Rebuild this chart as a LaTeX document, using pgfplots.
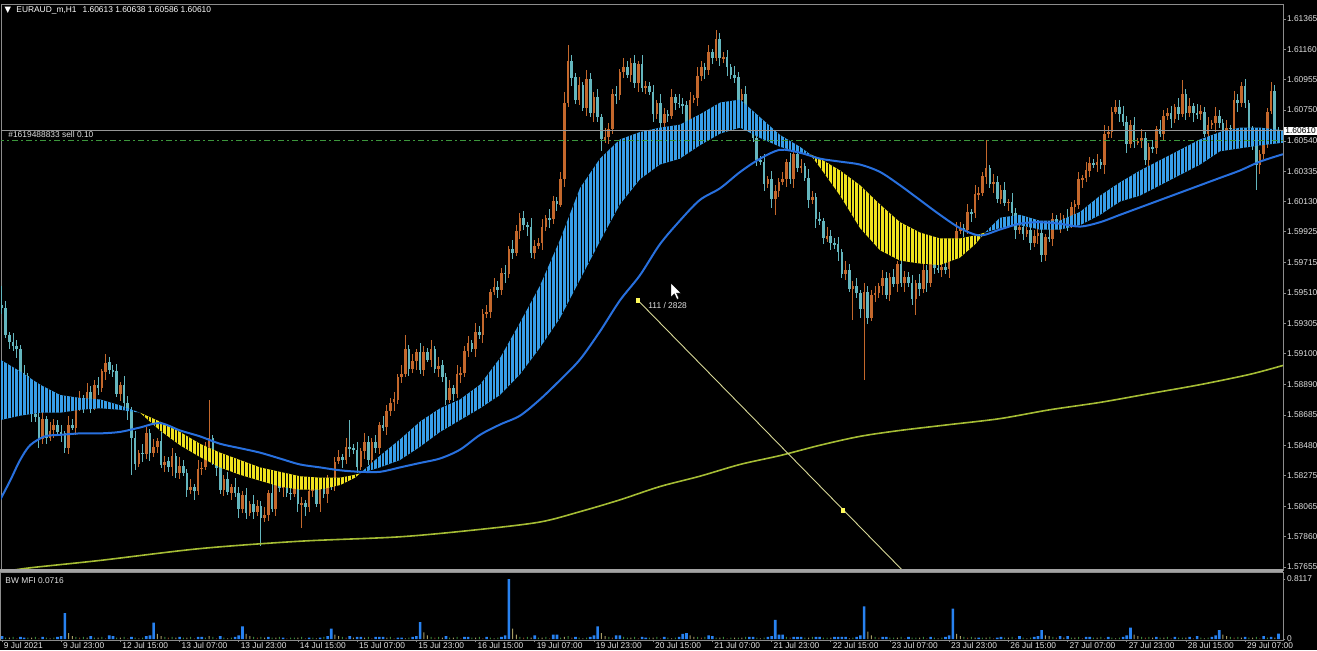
\documentclass[border=0pt]{standalone}
\usepackage{pgfplots}
\pgfplotsset{compat=1.18}
\usepackage{pgfplotstable}
\usetikzlibrary{patterns.meta}
\usepackage{fontspec}
\setmainfont{Liberation Sans}
\newfontfamily\dejavu{DejaVu Sans}

\definecolor{upc}{RGB}{196,104,44}
\definecolor{dnc}{RGB}{100,182,190}
\definecolor{ribblue}{RGB}{56,158,232}
\definecolor{ribyel}{RGB}{240,226,30}
\definecolor{mablue}{RGB}{40,112,222}
\definecolor{malongc}{RGB}{165,188,52}
\definecolor{axgrey}{RGB}{140,140,140}
\definecolor{txt}{RGB}{225,225,225}
\definecolor{mfib}{RGB}{40,130,240}
\definecolor{mfig}{RGB}{60,135,60}
\definecolor{mfik}{RGB}{165,155,100}
\definecolor{mfir}{RGB}{130,72,40}
\definecolor{ordgreen}{RGB}{60,150,60}
\definecolor{bidgrey}{RGB}{150,150,150}
\definecolor{trendc}{RGB}{215,215,150}
\definecolor{sqc}{RGB}{255,250,90}

\newcommand{\sm}{\fontsize{4.2pt}{5pt}\selectfont}

\pgfplotstableread{
i o h l c m k
0 1.5943 1.5956 1.5937 1.5941 0.04 0
1 1.5941 1.5946 1.5921 1.5923 0.02 1
2 1.5923 1.5925 1.5913 1.5918 0.02 2
3 1.5918 1.5924 1.5912 1.5915 0.03 1
4 1.5915 1.5919 1.5907 1.5913 0.01 3
5 1.5913 1.5916 1.5894 1.5897 0.03 0
6 1.5897 1.5902 1.5891 1.5895 0.02 0
7 1.5895 1.5897 1.5885 1.5887 0.02 1
8 1.5887 1.5893 1.5864 1.5869 0.02 2
9 1.5869 1.5873 1.5864 1.5867 0.03 1
10 1.5867 1.5870 1.5846 1.5852 0.01 3
11 1.5852 1.5871 1.5849 1.5866 0.03 0
12 1.5866 1.5868 1.5849 1.5853 0.02 1
13 1.5853 1.5864 1.5851 1.5858 0.01 2
14 1.5858 1.5866 1.5853 1.5862 0.02 1
15 1.5862 1.5865 1.5854 1.5857 0.03 0
16 1.5857 1.5862 1.5850 1.5856 0.04 0
17 1.5856 1.5858 1.5843 1.5846 0.35 0
18 1.5846 1.5868 1.5842 1.5862 0.08 2
19 1.5862 1.5866 1.5858 1.5860 0.04 2
20 1.5860 1.5877 1.5855 1.5874 0.03 1
21 1.5874 1.5885 1.5871 1.5880 0.02 3
22 1.5880 1.5882 1.5870 1.5876 0.03 1
23 1.5876 1.5890 1.5873 1.5884 0.02 2
24 1.5884 1.5888 1.5870 1.5874 0.04 0
25 1.5874 1.5892 1.5872 1.5889 0.02 1
26 1.5889 1.5894 1.5882 1.5887 0.02 2
27 1.5887 1.5900 1.5884 1.5898 0.03 1
28 1.5898 1.5910 1.5892 1.5904 0.01 3
29 1.5904 1.5908 1.5896 1.5899 0.05 0
30 1.5899 1.5902 1.5894 1.5898 0.04 0
31 1.5898 1.5903 1.5881 1.5883 0.02 1
32 1.5883 1.5891 1.5878 1.5889 0.02 2
33 1.5889 1.5895 1.5874 1.5877 0.03 1
34 1.5877 1.5881 1.5865 1.5871 0.01 3
35 1.5871 1.5874 1.5828 1.5853 0.03 0
36 1.5853 1.5858 1.5831 1.5835 0.02 1
37 1.5835 1.5845 1.5833 1.5843 0.01 2
38 1.5843 1.5849 1.5837 1.5842 0.02 1
39 1.5842 1.5860 1.5839 1.5856 0.04 0
40 1.5856 1.5859 1.5837 1.5843 0.05 0
41 1.5843 1.5852 1.5840 1.5847 0.22 0
42 1.5847 1.5853 1.5843 1.5851 0.07 2
43 1.5851 1.5857 1.5833 1.5835 0.04 2
44 1.5835 1.5841 1.5830 1.5837 0.03 1
45 1.5837 1.5840 1.5830 1.5833 0.02 3
46 1.5833 1.5846 1.5827 1.5841 0.03 1
47 1.5841 1.5843 1.5826 1.5829 0.02 2
48 1.5829 1.5840 1.5825 1.5834 0.03 0
49 1.5834 1.5838 1.5827 1.5829 0.02 1
50 1.5829 1.5832 1.5813 1.5818 0.02 2
51 1.5818 1.5825 1.5815 1.5820 0.03 1
52 1.5820 1.5822 1.5811 1.5817 0.01 3
53 1.5817 1.5838 1.5814 1.5832 0.03 0
54 1.5832 1.5837 1.5828 1.5833 0.03 0
55 1.5833 1.5850 1.5831 1.5847 0.02 1
56 1.5847 1.5879 1.5842 1.5853 0.04 2
57 1.5853 1.5855 1.5835 1.5838 0.03 1
58 1.5838 1.5844 1.5827 1.5833 0.01 3
59 1.5833 1.5837 1.5815 1.5818 0.04 0
60 1.5818 1.5828 1.5814 1.5825 0.02 1
61 1.5825 1.5830 1.5814 1.5816 0.01 2
62 1.5816 1.5822 1.5811 1.5820 0.02 1
63 1.5820 1.5826 1.5813 1.5816 0.03 0
64 1.5816 1.5820 1.5799 1.5805 0.05 0
65 1.5805 1.5817 1.5802 1.5814 0.17 0
66 1.5814 1.5819 1.5798 1.5802 0.07 2
67 1.5802 1.5810 1.5800 1.5808 0.04 2
68 1.5808 1.5814 1.5798 1.5803 0.03 1
69 1.5803 1.5811 1.5800 1.5807 0.02 3
70 1.5807 1.5810 1.5780 1.5799 0.03 1
71 1.5799 1.5806 1.5796 1.5801 0.02 2
72 1.5801 1.5818 1.5797 1.5816 0.03 0
73 1.5816 1.5822 1.5803 1.5805 0.02 1
74 1.5805 1.5826 1.5800 1.5822 0.02 2
75 1.5822 1.5825 1.5816 1.5819 0.03 1
76 1.5819 1.5825 1.5813 1.5820 0.02 0
77 1.5820 1.5822 1.5813 1.5816 0.01 3
78 1.5816 1.5822 1.5811 1.5815 0.02 1
79 1.5815 1.5827 1.5813 1.5823 0.02 1
80 1.5823 1.5826 1.5803 1.5808 0.02 2
81 1.5808 1.5813 1.5792 1.5809 0.03 1
82 1.5809 1.5811 1.5800 1.5806 0.01 3
83 1.5806 1.5823 1.5803 1.5817 0.02 0
84 1.5817 1.5823 1.5813 1.5819 0.02 1
85 1.5819 1.5822 1.5806 1.5808 0.01 2
86 1.5808 1.5825 1.5803 1.5820 0.02 0
87 1.5820 1.5822 1.5812 1.5815 0.03 1
88 1.5815 1.5828 1.5809 1.5822 0.04 0
89 1.5822 1.5826 1.5818 1.5821 0.14 0
90 1.5821 1.5840 1.5817 1.5837 0.06 2
91 1.5837 1.5845 1.5835 1.5840 0.04 2
92 1.5840 1.5842 1.5833 1.5838 0.03 1
93 1.5838 1.5853 1.5835 1.5847 0.02 3
94 1.5847 1.5865 1.5840 1.5846 0.04 0
95 1.5846 1.5849 1.5842 1.5845 0.02 2
96 1.5845 1.5850 1.5829 1.5833 0.03 0
97 1.5833 1.5846 1.5831 1.5844 0.03 0
98 1.5844 1.5856 1.5839 1.5850 0.02 2
99 1.5850 1.5854 1.5835 1.5838 0.03 1
100 1.5838 1.5853 1.5832 1.5850 0.01 3
101 1.5850 1.5855 1.5843 1.5846 0.03 0
102 1.5846 1.5864 1.5842 1.5862 0.03 0
103 1.5862 1.5868 1.5858 1.5860 0.03 0
104 1.5860 1.5875 1.5855 1.5871 0.02 2
105 1.5871 1.5880 1.5868 1.5877 0.03 1
106 1.5877 1.5884 1.5871 1.5879 0.01 3
107 1.5879 1.5896 1.5876 1.5894 0.02 0
108 1.5894 1.5902 1.5890 1.5896 0.02 0
109 1.5896 1.5923 1.5894 1.5913 0.01 2
110 1.5913 1.5916 1.5895 1.5900 0.02 1
111 1.5900 1.5910 1.5897 1.5905 0.03 0
112 1.5905 1.5913 1.5899 1.5911 0.04 0
113 1.5911 1.5917 1.5896 1.5899 0.23 0
114 1.5899 1.5915 1.5895 1.5911 0.09 2
115 1.5911 1.5914 1.5904 1.5906 0.05 2
116 1.5906 1.5919 1.5901 1.5913 0.03 1
117 1.5913 1.5915 1.5897 1.5900 0.02 3
118 1.5900 1.5908 1.5894 1.5902 0.03 1
119 1.5902 1.5906 1.5891 1.5894 0.02 2
120 1.5894 1.5897 1.5875 1.5879 0.04 0
121 1.5879 1.5892 1.5877 1.5887 0.02 1
122 1.5887 1.5889 1.5878 1.5883 0.02 2
123 1.5883 1.5902 1.5880 1.5896 0.03 1
124 1.5896 1.5901 1.5890 1.5897 0.01 3
125 1.5897 1.5915 1.5894 1.5912 0.03 0
126 1.5912 1.5922 1.5908 1.5917 0.03 0
127 1.5917 1.5919 1.5911 1.5913 0.02 1
128 1.5913 1.5931 1.5908 1.5925 0.02 2
129 1.5925 1.5929 1.5920 1.5923 0.03 1
130 1.5923 1.5940 1.5917 1.5937 0.01 3
131 1.5937 1.5943 1.5934 1.5938 0.03 0
132 1.5938 1.5954 1.5934 1.5952 0.02 1
133 1.5952 1.5961 1.5950 1.5955 0.01 2
134 1.5955 1.5959 1.5948 1.5953 0.02 1
135 1.5953 1.5968 1.5950 1.5965 0.03 0
136 1.5965 1.5970 1.5958 1.5964 0.05 0
137 1.5964 1.5983 1.5961 1.5981 0.8117 0
138 1.5981 1.5987 1.5974 1.5978 0.14 2
139 1.5978 1.5997 1.5976 1.5993 0.06 2
140 1.5993 1.6005 1.5988 1.6002 0.03 1
141 1.6002 1.6007 1.5994 1.5997 0.02 3
142 1.5997 1.5999 1.5990 1.5996 0.03 1
143 1.5996 1.6002 1.5975 1.5978 0.02 2
144 1.5978 1.5987 1.5974 1.5983 0.05 0
145 1.5983 1.5988 1.5981 1.5985 0.02 1
146 1.5985 1.6001 1.5980 1.5996 0.02 2
147 1.5996 1.6004 1.5993 1.6002 0.03 1
148 1.6002 1.6008 1.5995 1.6001 0.01 3
149 1.6001 1.6017 1.5998 1.6013 0.06 0
150 1.6013 1.6016 1.6007 1.6011 0.06 0
151 1.6011 1.6033 1.6009 1.6028 0.02 1
152 1.6028 1.6087 1.6023 1.6080 0.03 2
153 1.6080 1.6119 1.6077 1.6108 0.04 1
154 1.6108 1.6112 1.6091 1.6097 0.02 3
155 1.6097 1.6100 1.6079 1.6082 0.03 0
156 1.6082 1.6097 1.6078 1.6092 0.02 1
157 1.6092 1.6094 1.6074 1.6076 0.01 2
158 1.6076 1.6102 1.6071 1.6096 0.02 1
159 1.6096 1.6100 1.6070 1.6073 0.03 0
160 1.6073 1.6087 1.6067 1.6084 0.05 0
161 1.6084 1.6089 1.6067 1.6070 0.17 0
162 1.6070 1.6072 1.6047 1.6055 0.08 2
163 1.6055 1.6063 1.6053 1.6057 0.04 2
164 1.6057 1.6066 1.6052 1.6062 0.03 1
165 1.6062 1.6089 1.6059 1.6086 0.02 3
166 1.6086 1.6091 1.6079 1.6085 0.05 0
167 1.6085 1.6103 1.6082 1.6101 0.05 0
168 1.6101 1.6110 1.6097 1.6104 0.03 1
169 1.6104 1.6108 1.6097 1.6099 0.02 1
170 1.6099 1.6110 1.6094 1.6107 0.02 2
171 1.6107 1.6112 1.6090 1.6093 0.03 1
172 1.6093 1.6108 1.6087 1.6106 0.01 3
173 1.6106 1.6112 1.6087 1.6090 0.03 0
174 1.6090 1.6095 1.6086 1.6091 0.02 0
175 1.6091 1.6094 1.6085 1.6087 0.02 1
176 1.6087 1.6092 1.6067 1.6072 0.02 2
177 1.6072 1.6082 1.6069 1.6080 0.03 1
178 1.6080 1.6086 1.6060 1.6066 0.01 3
179 1.6066 1.6076 1.6063 1.6072 0.03 0
180 1.6072 1.6075 1.6067 1.6071 0.02 1
181 1.6071 1.6089 1.6069 1.6084 0.01 2
182 1.6084 1.6086 1.6075 1.6080 0.02 1
183 1.6080 1.6086 1.6076 1.6079 0.03 0
184 1.6079 1.6083 1.6072 1.6078 0.07 0
185 1.6078 1.6081 1.6063 1.6066 0.08 0
186 1.6066 1.6087 1.6062 1.6082 0.05 2
187 1.6082 1.6085 1.6080 1.6083 0.03 2
188 1.6083 1.6104 1.6078 1.6098 0.03 1
189 1.6098 1.6108 1.6095 1.6104 0.02 3
190 1.6104 1.6107 1.6096 1.6102 0.03 1
191 1.6102 1.6119 1.6099 1.6114 0.05 0
192 1.6114 1.6116 1.6106 1.6110 0.04 0
193 1.6110 1.6129 1.6108 1.6123 0.02 1
194 1.6123 1.6127 1.6105 1.6110 0.02 2
195 1.6110 1.6114 1.6107 1.6111 0.03 1
196 1.6111 1.6116 1.6098 1.6104 0.01 3
197 1.6104 1.6106 1.6096 1.6099 0.02 1
198 1.6099 1.6105 1.6093 1.6097 0.02 2
199 1.6097 1.6101 1.6080 1.6082 0.02 1
200 1.6082 1.6089 1.6077 1.6086 0.02 2
201 1.6086 1.6091 1.6070 1.6073 0.03 1
202 1.6073 1.6075 1.6061 1.6067 0.03 0
203 1.6067 1.6073 1.6053 1.6056 0.03 0
204 1.6056 1.6060 1.6037 1.6041 0.02 1
205 1.6041 1.6044 1.6038 1.6040 0.01 2
206 1.6040 1.6045 1.6020 1.6025 0.02 1
207 1.6025 1.6030 1.6022 1.6028 0.03 0
208 1.6028 1.6034 1.6009 1.6015 0.04 0
209 1.6015 1.6024 1.6004 1.6020 0.26 0
210 1.6020 1.6029 1.6016 1.6026 0.06 0
211 1.6026 1.6033 1.6024 1.6028 0.06 0
212 1.6028 1.6042 1.6023 1.6040 0.03 1
213 1.6040 1.6046 1.6025 1.6028 0.02 3
214 1.6028 1.6049 1.6022 1.6045 0.03 0
215 1.6045 1.6048 1.6033 1.6036 0.03 0
216 1.6036 1.6042 1.6032 1.6037 0.03 0
217 1.6037 1.6039 1.6027 1.6029 0.02 1
218 1.6029 1.6035 1.6009 1.6014 0.02 2
219 1.6014 1.6020 1.6011 1.6016 0.03 1
220 1.6016 1.6019 1.5995 1.6001 0.03 0
221 1.6001 1.6006 1.5997 1.6000 0.03 0
222 1.6000 1.6002 1.5984 1.5988 0.02 1
223 1.5988 1.5996 1.5986 1.5990 0.02 1
224 1.5990 1.5994 1.5980 1.5985 0.02 2
225 1.5985 1.5988 1.5981 1.5984 0.03 0
226 1.5984 1.5989 1.5973 1.5979 0.03 0
227 1.5979 1.5981 1.5961 1.5964 0.03 0
228 1.5964 1.5973 1.5960 1.5967 0.03 0
229 1.5967 1.5971 1.5952 1.5954 0.01 2
230 1.5954 1.5959 1.5933 1.5956 0.02 1
231 1.5956 1.5961 1.5948 1.5951 0.03 0
232 1.5951 1.5953 1.5934 1.5940 0.05 0
233 1.5940 1.5958 1.5892 1.5952 0.44 0
234 1.5952 1.5956 1.5930 1.5934 0.10 2
235 1.5934 1.5953 1.5932 1.5950 0.05 2
236 1.5950 1.5956 1.5945 1.5951 0.03 1
237 1.5951 1.5958 1.5948 1.5956 0.02 3
238 1.5956 1.5967 1.5950 1.5961 0.03 0
239 1.5961 1.5965 1.5947 1.5950 0.03 0
240 1.5950 1.5965 1.5946 1.5962 0.02 1
241 1.5962 1.5967 1.5955 1.5957 0.02 1
242 1.5957 1.5973 1.5952 1.5971 0.02 2
243 1.5971 1.5977 1.5955 1.5958 0.03 1
244 1.5958 1.5966 1.5952 1.5962 0.01 3
245 1.5962 1.5965 1.5955 1.5958 0.03 0
246 1.5958 1.5963 1.5943 1.5947 0.02 1
247 1.5947 1.5960 1.5936 1.5958 0.02 1
248 1.5958 1.5964 1.5949 1.5954 0.02 2
249 1.5954 1.5971 1.5951 1.5967 0.03 1
250 1.5967 1.5970 1.5952 1.5958 0.01 3
251 1.5958 1.5978 1.5955 1.5973 0.03 0
252 1.5973 1.5975 1.5964 1.5968 0.02 1
253 1.5968 1.5974 1.5965 1.5967 0.01 2
254 1.5967 1.5973 1.5962 1.5969 0.02 1
255 1.5969 1.5972 1.5964 1.5967 0.03 0
256 1.5967 1.5986 1.5961 1.5981 0.05 0
257 1.5981 1.5984 1.5978 1.5982 0.41 0
258 1.5982 1.5999 1.5978 1.5993 0.07 2
259 1.5993 1.5999 1.5991 1.5995 0.04 2
260 1.5995 1.5998 1.5989 1.5994 0.03 1
261 1.5994 1.6011 1.5991 1.6006 0.02 3
262 1.6006 1.6008 1.5999 1.6005 0.03 1
263 1.6005 1.6024 1.6002 1.6018 0.02 2
264 1.6018 1.6023 1.6014 1.6019 0.02 0
265 1.6019 1.6033 1.6017 1.6030 0.02 1
266 1.6030 1.6055 1.6025 1.6036 0.02 2
267 1.6036 1.6038 1.6022 1.6025 0.03 1
268 1.6025 1.6032 1.6019 1.6026 0.01 3
269 1.6026 1.6030 1.6012 1.6015 0.02 0
270 1.6015 1.6024 1.6011 1.6021 0.03 0
271 1.6021 1.6026 1.6010 1.6012 0.02 1
272 1.6012 1.6015 1.6007 1.6013 0.02 2
273 1.6013 1.6019 1.6002 1.6005 0.03 1
274 1.6005 1.6009 1.5988 1.5994 0.01 3
275 1.5994 1.5999 1.5991 1.5996 0.04 0
276 1.5996 1.6001 1.5987 1.5991 0.02 1
277 1.5991 1.5996 1.5989 1.5994 0.01 2
278 1.5994 1.6000 1.5980 1.5985 0.02 1
279 1.5985 1.5994 1.5982 1.5990 0.03 0
280 1.5990 1.5995 1.5984 1.5992 0.04 0
281 1.5992 1.5997 1.5972 1.5977 0.12 0
282 1.5977 1.5991 1.5973 1.5989 0.05 2
283 1.5989 1.5995 1.5986 1.5988 0.04 2
284 1.5988 1.6005 1.5983 1.6001 0.03 1
285 1.6001 1.6004 1.5995 1.5998 0.02 3
286 1.5998 1.6005 1.5992 1.6000 0.04 0
287 1.6000 1.6004 1.5997 1.6002 0.02 2
288 1.6002 1.6008 1.5993 1.5997 0.04 0
289 1.5997 1.6013 1.5995 1.6009 0.02 1
290 1.6009 1.6014 1.6004 1.6011 0.02 2
291 1.6011 1.6033 1.6008 1.6028 0.03 1
292 1.6028 1.6031 1.6022 1.6029 0.01 3
293 1.6029 1.6040 1.6026 1.6034 0.03 0
294 1.6034 1.6043 1.6030 1.6039 0.03 0
295 1.6039 1.6042 1.6036 1.6038 0.02 1
296 1.6038 1.6045 1.6033 1.6040 0.02 2
297 1.6040 1.6042 1.6035 1.6038 0.03 1
298 1.6038 1.6065 1.6032 1.6059 0.01 3
299 1.6059 1.6064 1.6056 1.6060 0.03 0
300 1.6060 1.6077 1.6056 1.6074 0.02 1
301 1.6074 1.6082 1.6072 1.6077 0.01 2
302 1.6077 1.6082 1.6067 1.6072 0.02 1
303 1.6072 1.6078 1.6064 1.6067 0.03 0
304 1.6067 1.6071 1.6046 1.6052 0.05 0
305 1.6052 1.6068 1.6049 1.6065 0.155 0
306 1.6065 1.6070 1.6049 1.6053 0.06 2
307 1.6053 1.6056 1.6051 1.6054 0.04 2
308 1.6054 1.6062 1.6049 1.6056 0.03 1
309 1.6056 1.6060 1.6038 1.6041 0.02 3
310 1.6041 1.6053 1.6035 1.6050 0.03 1
311 1.6050 1.6055 1.6046 1.6049 0.02 2
312 1.6049 1.6064 1.6045 1.6062 0.03 0
313 1.6062 1.6068 1.6057 1.6059 0.02 1
314 1.6059 1.6075 1.6054 1.6071 0.02 2
315 1.6071 1.6076 1.6068 1.6073 0.03 1
316 1.6073 1.6078 1.6063 1.6069 0.01 3
317 1.6069 1.6079 1.6066 1.6077 0.03 0
318 1.6077 1.6083 1.6068 1.6072 0.02 1
319 1.6072 1.6095 1.6070 1.6086 0.02 1
320 1.6086 1.6089 1.6068 1.6073 0.02 2
321 1.6073 1.6083 1.6070 1.6078 0.03 0
322 1.6078 1.6080 1.6067 1.6073 0.01 3
323 1.6073 1.6079 1.6069 1.6072 0.04 0
324 1.6072 1.6078 1.6068 1.6074 0.02 1
325 1.6074 1.6077 1.6057 1.6059 0.01 2
326 1.6059 1.6070 1.6054 1.6065 0.02 1
327 1.6065 1.6068 1.6062 1.6066 0.03 0
328 1.6066 1.6077 1.6060 1.6071 0.05 0
329 1.6071 1.6075 1.6063 1.6066 0.12 0
330 1.6066 1.6069 1.6051 1.6055 0.06 2
331 1.6055 1.6068 1.6053 1.6063 0.04 2
332 1.6063 1.6065 1.6057 1.6062 0.03 1
333 1.6062 1.6088 1.6059 1.6082 0.02 3
334 1.6082 1.6086 1.6074 1.6080 0.03 1
335 1.6080 1.6094 1.6077 1.6091 0.02 2
336 1.6091 1.6096 1.6076 1.6080 0.03 0
337 1.6080 1.6082 1.6056 1.6058 0.02 1
338 1.6058 1.6064 1.6048 1.6053 0.02 2
339 1.6053 1.6057 1.6021 1.6038 0.03 1
340 1.6038 1.6048 1.6032 1.6045 0.01 3
341 1.6045 1.6058 1.6042 1.6053 0.04 0
342 1.6053 1.6076 1.6049 1.6074 0.02 1
343 1.6074 1.6094 1.6072 1.6088 0.03 0
344 1.6088 1.6092 1.6056 1.6061 0.02 2
345 1.60613 1.60638 1.60586 1.60610 0.0716 0
}\data

% ribbon outlines (fast MA out, slow MA back), one table per colour segment
\pgfplotstableread{
i p
-0.5 1.5906
4.9 1.5898
10.3 1.5889
15.7 1.5882
21.1 1.5880
26.5 1.5879
31.9 1.5875
37.3 1.5870
31.9 1.5872
26.5 1.5873
21.1 1.5872
15.7 1.5870
10.3 1.5870
4.9 1.5868
-0.5 1.5865
}\ribA
\pgfplotstableread{
i p
37.3 1.5870
42.7 1.5858
48.1 1.5848
53.5 1.5840
58.9 1.5833
64.3 1.5828
69.7 1.5824
75.1 1.5820
80.5 1.5818
85.9 1.5818
91.4 1.5821
95.4 1.5826
96.8 1.5829
95.4 1.5828
91.4 1.5826
85.9 1.5826
80.5 1.5827
75.1 1.5830
69.7 1.5833
64.3 1.5838
58.9 1.5843
53.5 1.5849
48.1 1.5857
42.7 1.5864
}\ribB
\pgfplotstableread{
i p
96.8 1.5829
102.2 1.5841
107.6 1.5852
113.0 1.5864
118.4 1.5873
123.8 1.5879
129.2 1.5889
134.6 1.5907
140.0 1.5931
145.4 1.5956
150.8 1.5987
156.2 1.6022
161.6 1.6042
167.0 1.6055
172.4 1.6060
177.8 1.6063
183.2 1.6065
188.6 1.6072
194.1 1.6080
199.5 1.6082
204.9 1.6070
210.3 1.6058
215.7 1.6050
218.4 1.6045
215.7 1.6046
210.3 1.6050
204.9 1.6056
199.5 1.6063
194.1 1.6059
188.6 1.6051
183.2 1.6042
177.8 1.6038
172.4 1.6028
167.0 1.6011
161.6 1.5986
156.2 1.5960
150.8 1.5934
145.4 1.5914
140.0 1.5896
134.6 1.5882
129.2 1.5873
123.8 1.5865
118.4 1.5857
113.0 1.5847
107.6 1.5838
102.2 1.5833
}\ribC
\pgfplotstableread{
i p
218.4 1.6045
221.1 1.6036
226.5 1.6017
231.9 1.5995
237.3 1.5980
242.7 1.5973
248.1 1.5971
253.5 1.5970
258.9 1.5975
263.0 1.5984
265.7 1.5992
263.0 1.5990
258.9 1.5988
253.5 1.5988
248.1 1.5992
242.7 1.5999
237.3 1.6011
231.9 1.6024
226.5 1.6034
221.1 1.6042
}\ribD
\pgfplotstableread{
i p
265.7 1.5992
269.7 1.6002
275.1 1.6004
280.5 1.6000
285.9 1.6000
291.4 1.6006
296.8 1.6017
302.2 1.6026
307.6 1.6034
313.0 1.6041
318.4 1.6048
323.8 1.6055
329.2 1.6060
334.6 1.6063
340.0 1.6063
347.0 1.6061
347.0 1.6053
340.0 1.6051
334.6 1.6049
329.2 1.6047
323.8 1.6038
318.4 1.6031
313.0 1.6024
307.6 1.6017
302.2 1.6013
296.8 1.6004
291.4 1.5997
285.9 1.5994
280.5 1.5994
275.1 1.5997
269.7 1.5995
}\ribE

\pgfplotstableread{
i v
-0.5 1.5811
2.2 1.5824
4.9 1.5838
7.6 1.5848
11.6 1.5854
15.7 1.5855
21.1 1.5856
26.5 1.5856
31.9 1.5857
37.3 1.5860
42.7 1.5863
48.1 1.5858
53.5 1.5854
58.9 1.5849
64.3 1.5846
69.7 1.5843
75.1 1.5839
80.5 1.5835
85.9 1.5833
91.4 1.5831
96.8 1.5830
102.2 1.5830
107.6 1.5833
113.0 1.5836
118.4 1.5839
123.8 1.5845
129.2 1.5855
134.6 1.5862
140.0 1.5868
145.4 1.5879
150.8 1.5892
156.2 1.5906
161.6 1.5925
167.0 1.5946
172.4 1.5963
177.8 1.5984
183.2 1.6000
188.6 1.6014
194.1 1.6022
199.5 1.6033
204.9 1.6042
210.3 1.6048
215.7 1.6046
221.1 1.6042
226.5 1.6040
231.9 1.6038
237.3 1.6033
242.7 1.6024
248.1 1.6014
253.5 1.6004
258.9 1.5995
264.3 1.5990
269.7 1.5994
275.1 1.5998
280.5 1.5999
285.9 1.5998
291.4 1.5996
296.8 1.5999
302.2 1.6004
307.6 1.6009
313.0 1.6014
318.4 1.6019
323.8 1.6024
329.2 1.6029
334.6 1.6034
340.0 1.6040
346.2 1.6045
}\maslow

\pgfplotstableread{
i v
-0.5 1.5762
7.6 1.5765
26.5 1.5770
53.5 1.5778
80.5 1.5783
107.6 1.5786
129.2 1.5791
145.4 1.5796
156.2 1.5803
167.0 1.5811
177.8 1.5820
188.6 1.5827
199.5 1.5835
210.3 1.5841
221.1 1.5848
231.9 1.5854
242.7 1.5858
256.2 1.5862
269.7 1.5866
283.2 1.5872
296.8 1.5877
310.3 1.5883
323.8 1.5889
337.3 1.5896
346.2 1.5902
}\malong

\pgfplotsset{
  stripes/.style={draw=none, pattern={Lines[angle=90,distance=1.85pt,line width=0.4pt]}, pattern color=black},
  candle/.style 2 args={draw=none, mark=none, restrict y to domain=1.5:1.7,
    error bars/.cd, y dir=both, y explicit, error mark=none,
    error bar style={line width=#1, draw=#2, solid}},
}

\begin{document}
\begin{tikzpicture}
\fill[black] (0,0) rectangle (658.5pt,-325pt);

\begin{axis}[
  at={(0.5pt,-2pt)}, anchor=north west,
  scale only axis, width=641pt, height=283pt,
  xmin=-0.27, xmax=346.22, ymin=1.57635, ymax=1.61467,
  axis line style={axgrey, line width=0.5pt},
  xtick=\empty,
  ytick={1.61365,1.61160,1.60955,1.60750,1.60540,1.60335,1.60130,1.59925,1.59715,1.59510,1.59305,1.59100,1.58890,1.58685,1.58480,1.58275,1.58065,1.57860,1.57655},
  yticklabels={1.61365,1.61160,1.60955,1.60750,1.60540,1.60335,1.60130,1.59925,1.59715,1.59510,1.59305,1.59100,1.58890,1.58685,1.58480,1.58275,1.58065,1.57860,1.57655},
  ytick pos=right, yticklabel pos=right,
  tick align=outside, major tick length=1.5pt,
  tick style={axgrey, line width=0.4pt},
  yticklabel style={font=\sm, text=txt, anchor=west, inner sep=0pt, xshift=0.3pt},
]
% candles: wicks and bodies (points of the other colour are pushed out of range and dropped)
\addplot[candle={0.5pt}{upc}]
  table[x=i, y expr={(\thisrow{h}+\thisrow{l})/2+10*(\thisrow{c}<\thisrow{o})}, y error expr={(\thisrow{h}-\thisrow{l})/2}]{\data};
\addplot[candle={1.3pt}{upc}]
  table[x=i, y expr={(\thisrow{o}+\thisrow{c})/2+10*(\thisrow{c}<\thisrow{o})}, y error expr={abs(\thisrow{c}-\thisrow{o})/2}]{\data};
\addplot[candle={0.5pt}{dnc}]
  table[x=i, y expr={(\thisrow{h}+\thisrow{l})/2+10*(\thisrow{c}>=\thisrow{o})}, y error expr={(\thisrow{h}-\thisrow{l})/2}]{\data};
\addplot[candle={1.3pt}{dnc}]
  table[x=i, y expr={(\thisrow{o}+\thisrow{c})/2+10*(\thisrow{c}>=\thisrow{o})}, y error expr={abs(\thisrow{c}-\thisrow{o})/2}]{\data};

% ribbon
\addplot[fill=ribblue, draw=none] table[x=i,y=p]{\ribA};
\addplot[fill=ribyel, draw=none] table[x=i,y=p]{\ribB};
\addplot[fill=ribblue, draw=none] table[x=i,y=p]{\ribC};
\addplot[fill=ribyel, draw=none] table[x=i,y=p]{\ribD};
\addplot[fill=ribblue, draw=none] table[x=i,y=p]{\ribE};
\addplot[stripes] table[x=i,y=p]{\ribA};
\addplot[stripes] table[x=i,y=p]{\ribB};
\addplot[stripes] table[x=i,y=p]{\ribC};
\addplot[stripes] table[x=i,y=p]{\ribD};
\addplot[stripes] table[x=i,y=p]{\ribE};

% moving averages
\addplot[mablue, line width=1pt, smooth] table[x=i,y=v]{\maslow};
\addplot[malongc, line width=0.8pt, smooth] table[x=i,y=v]{\malong};

% price lines
\addplot[bidgrey, line width=0.5pt] coordinates {(-1,1.6061) (347,1.6061)};
\addplot[ordgreen, line width=0.5pt, dash pattern=on 3pt off 1.5pt on 1pt off 1.5pt] coordinates {(-1,1.6054) (347,1.6054)};

% trend line
\addplot[trendc, line width=0.45pt] coordinates {(171.9,1.5946) (243.5,1.5763)};
\addplot[only marks, mark=square*, mark size=0.9pt, sqc] coordinates {(171.9,1.5946) (227.3,1.5804)};
\end{axis}

\begin{axis}[
  at={(0.5pt,-286pt)}, anchor=north west,
  scale only axis, width=641pt, height=34pt,
  xmin=-0.27, xmax=346.22, ymin=-0.0135, ymax=0.9064,
  axis line style={axgrey, line width=0.5pt},
  xtick={0,16,32,48,64,80,96,112,128,144,160,176,192,208,224,240,256,272,288,304,320,336},
  xticklabels={9 Jul 2021,9 Jul 23:00,12 Jul 15:00,13 Jul 07:00,13 Jul 23:00,14 Jul 15:00,15 Jul 07:00,15 Jul 23:00,16 Jul 15:00,19 Jul 07:00,19 Jul 23:00,20 Jul 15:00,21 Jul 07:00,21 Jul 23:00,22 Jul 15:00,23 Jul 07:00,23 Jul 23:00,26 Jul 15:00,27 Jul 07:00,27 Jul 23:00,28 Jul 15:00,29 Jul 07:00},
  xtick pos=left,
  xticklabel style={font=\sm, text=txt, anchor=north west, inner sep=0pt, xshift=0.8pt, yshift=0.3pt},
  ytick={0,0.8117}, yticklabels={0,0.8117},
  ytick pos=right, yticklabel pos=right,
  tick align=outside, major tick length=1.2pt,
  tick style={axgrey, line width=0.4pt},
  yticklabel style={font=\sm, text=txt, anchor=west, inner sep=0pt, xshift=0.6pt},
]
\addplot[ybar, bar width=1.3pt, bar shift=0pt, fill=mfib, draw=none, restrict y to domain=-1:5] table[x=i, y expr={\thisrow{m}+10*(\thisrow{k}!=0)}]{\data};
\addplot[ybar, bar width=0.5pt, bar shift=0pt, fill=mfig, draw=none, restrict y to domain=-1:5] table[x=i, y expr={\thisrow{m}+10*(\thisrow{k}!=1)}]{\data};
\addplot[ybar, bar width=0.5pt, bar shift=0pt, fill=mfik, draw=none, restrict y to domain=-1:5] table[x=i, y expr={\thisrow{m}+10*(\thisrow{k}!=2)}]{\data};
\addplot[ybar, bar width=0.5pt, bar shift=0pt, fill=mfir, draw=none, restrict y to domain=-1:5] table[x=i, y expr={\thisrow{m}+10*(\thisrow{k}!=3)}]{\data};
\end{axis}

% separator between panels
\fill[axgrey!80!white] (0,-284.6pt) rectangle (641.5pt,-286.1pt);

% texts
\node[font=\sm\dejavu, text=white, inner sep=0pt] at (3.9pt,-5pt) {▼};
\node[font=\sm, text=white, anchor=west, inner sep=0pt] at (8pt,-5pt) {EURAUD\_m,H1\hspace{3pt}1.60613 1.60638 1.60586 1.60610};
\node[font=\sm, text=txt, anchor=west, inner sep=0pt] at (4pt,-67pt) {\#1619488833 sell 0.10};
\node[font=\sm, text=txt, anchor=west, inner sep=0pt] at (324pt,-152.5pt) {111 / 2828};
\node[font=\sm, text=txt, anchor=west, inner sep=0pt] at (2.5pt,-290.5pt) {BW MFI 0.0716};
\node[font=\sm, text=black, fill=white, anchor=west, inner sep=0.5pt] at (642pt,-65.5pt) {1.60610};

% mouse pointer drawn over the chart
\fill[white, draw=black, line width=0.2pt] (335.5pt,-141.5pt) -- ++(0pt,-7pt) -- ++(1.7pt,1.6pt) -- ++(1.3pt,-2.8pt) -- ++(1pt,0.5pt) -- ++(-1.3pt,2.7pt) -- ++(2.3pt,0pt) -- cycle;

\pgfresetboundingbox
\useasboundingbox (0,0) rectangle (658.5pt,-325pt);
\end{tikzpicture}
\end{document}
